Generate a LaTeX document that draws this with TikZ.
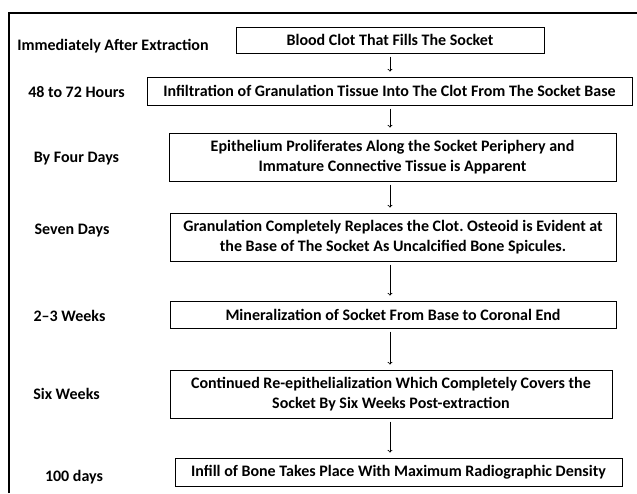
\documentclass[tikz,border=0pt]{standalone}
\usepackage{fontspec}
\setmainfont{Carlito}
\frenchspacing
\begin{document}
\begin{tikzpicture}[x=1pt,y=-1pt,
  stage/.style={draw,line width=1pt,inner sep=0pt,align=center,font=\bfseries\fontsize{16}{20}\selectfont},
  when/.style={inner sep=0pt,font=\bfseries\fontsize{16}{20}\selectfont},
  flow/.style={->,line width=0.8pt,shorten <=3pt,shorten >=5pt}]
\useasboundingbox (0,0) rectangle (637,493);
\draw[line width=2.5pt] (9,493) -- (9,13) -- (637,13);
\coordinate (axis) at (390,0);
% stages
\node[stage,minimum width=308,minimum height=26] (b1) at (390,40) {Blood Clot That Fills The Socket};
\node[stage,minimum width=485,minimum height=28] (b2) at (389.5,91) {Infiltration of Granulation Tissue Into The Clot From The Socket Base};
\node[stage,minimum width=447,minimum height=48] (b3) at (392.5,157) {Epithelium Proliferates Along the Socket Periphery and\\Immature Connective Tissue is Apparent};
\node[stage,minimum width=446,minimum height=48] (b4) at (393,237) {Granulation Completely Replaces the Clot. Osteoid is Evident at\\the Base of The Socket As Uncalcified Bone Spicules.};
\node[stage,minimum width=446,minimum height=27] (b5) at (393,314.5) {Mineralization of Socket From Base to Coronal End};
\node[stage,minimum width=442,minimum height=48] (b6) at (391,394) {Continued Re-epithelialization Which Completely Covers the\\Socket By Six Weeks Post-extraction};
\node[stage,minimum width=447,minimum height=28] (b7) at (398.5,472) {Infill of Bone Takes Place With Maximum Radiographic Density};
% times
\node[when] (t1) at (113,46) {Immediately After Extraction};
\node[when] (t2) at (76.5,92) {48 to 72 Hours};
\node[when] (t3) at (76.5,159) {By Four Days};
\node[when] (t4) at (72,231) {Seven Days};
\node[when] (t5) at (69.5,316) {2--3 Weeks};
\node[when] (t6) at (66.5,394) {Six Weeks};
\node[when] (t7) at (74,477) {100 days};
% arrows
\foreach \a/\b in {b1/b2,b2/b3,b3/b4,b4/b5,b5/b6,b6/b7}
  \draw[flow] (\a.south -| axis) -- (\b.north -| axis);
\end{tikzpicture}
\end{document}
